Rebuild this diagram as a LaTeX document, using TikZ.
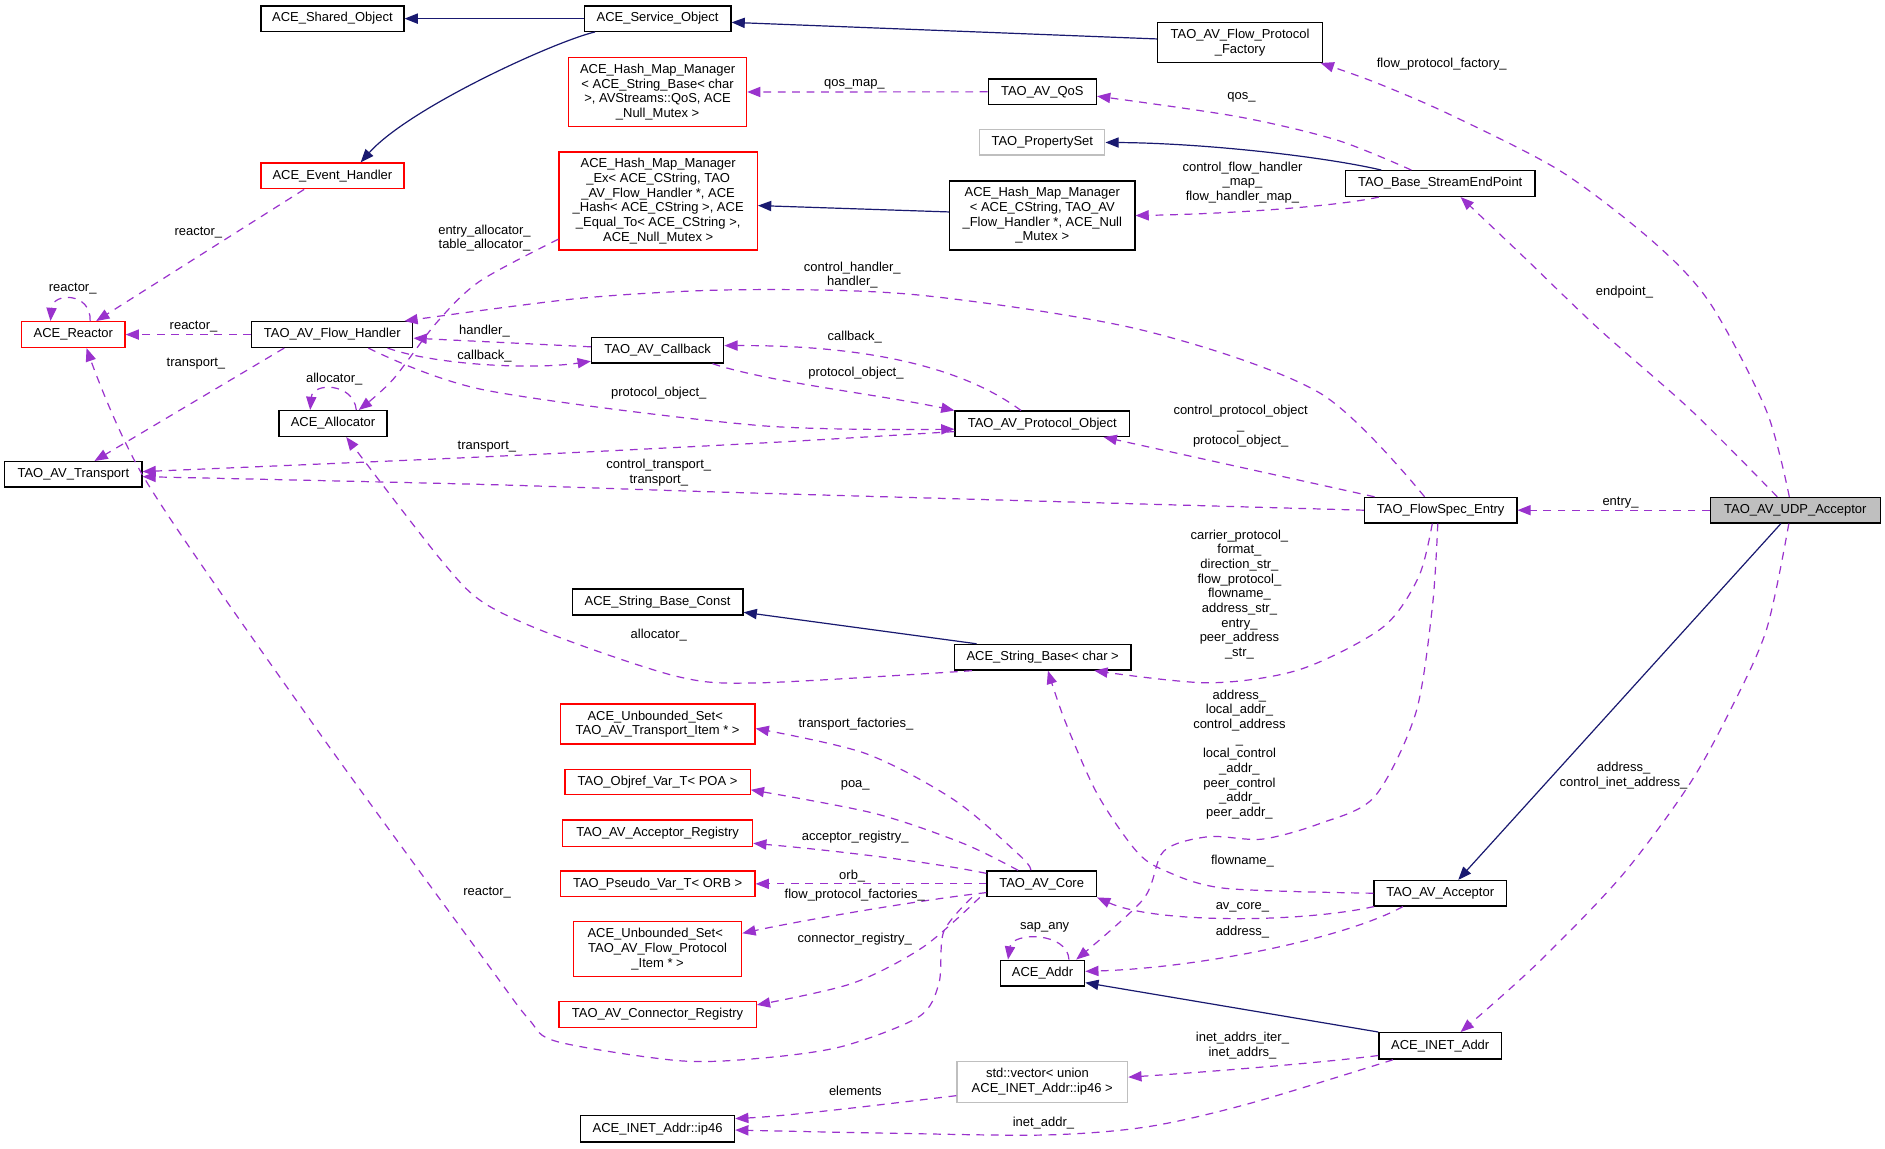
\documentclass[tikz,border=0pt]{standalone}
\usepackage{fontspec}
\setmainfont{Liberation Sans}
\usetikzlibrary{arrows.meta}
\definecolor{purp}{HTML}{9A32CD}
\definecolor{navyb}{HTML}{191970}
\definecolor{greyl}{HTML}{BFBFBF}
\newcommand\dgfont{\fontsize{10.8}{12.2}\selectfont}
\tikzset{
 box/.style={draw=black, line width=1.1pt, inner sep=0pt, align=center, font=\dgfont},
 redbox/.style={box, draw=red},
 greybox/.style={box, draw=greyl},
 usage/.style={draw=purp, dash pattern=on 6.5pt off 5.5pt, line width=1pt, -{Triangle[length=11pt,width=8.5pt]}},
 inh/.style={draw=navyb, line width=1pt, -{Triangle[length=11pt,width=8.5pt]}},
 lbl/.style={font=\dgfont, inner sep=0pt, align=center},
}
\begin{document}
\begin{tikzpicture}[x=1pt,y=-1pt]
\path[fill=white] (0,0) rectangle (1568,955);
% nodes
\node[box, minimum width=119pt, minimum height=21pt] (shared) at (276.5,15.5) {ACE\_Shared\_Object};
\node[box, minimum width=122pt, minimum height=21pt] (service) at (547,15.5) {ACE\_Service\_Object};
\node[box, minimum width=137pt, minimum height=33.3pt] (factory) at (1031.5,35.2) {TAO\_AV\_Flow\_Protocol\\\_Factory};
\node[redbox, minimum width=148pt, minimum height=57.7pt] (hashqos) at (547,76.5) {ACE\_Hash\_Map\_Manager\\< ACE\_String\_Base< char\\>, AVStreams::QoS, ACE\\\_Null\_Mutex >};
\node[box, minimum width=90pt, minimum height=21.3pt] (qos) at (867,76.4) {TAO\_AV\_QoS};
\node[greybox, minimum width=104pt, minimum height=21pt] (propset) at (867,118.5) {TAO\_PropertySet};
\node[redbox, minimum width=165pt, minimum height=81.6pt] (hashex) at (547.5,167.2) {ACE\_Hash\_Map\_Manager\\\_Ex< ACE\_CString, TAO\\\_AV\_Flow\_Handler *, ACE\\\_Hash< ACE\_CString >, ACE\\\_Equal\_To< ACE\_CString >,\\ACE\_Null\_Mutex >};
\node[box, minimum width=154pt, minimum height=57.5pt] (hashcs) at (867,179.3) {ACE\_Hash\_Map\_Manager\\< ACE\_CString, TAO\_AV\\\_Flow\_Handler *, ACE\_Null\\\_Mutex >};
\node[box, minimum width=157.5pt, minimum height=21.4pt] (endpoint) at (1198,152.7) {TAO\_Base\_StreamEndPoint};
\node[redbox, minimum width=119pt, minimum height=21.4pt] (evh) at (276.5,146.3) {ACE\_Event\_Handler};
\node[redbox, minimum width=86pt, minimum height=21.4pt] (reactor) at (61,278.3) {ACE\_Reactor};
\node[box, minimum width=134pt, minimum height=21.4pt] (flowh) at (276.4,278.3) {TAO\_AV\_Flow\_Handler};
\node[box, minimum width=110pt, minimum height=21pt] (callback) at (547,291.5) {TAO\_AV\_Callback};
\node[box, minimum width=90pt, minimum height=21.4pt] (allocator) at (277,352.3) {ACE\_Allocator};
\node[box, minimum width=114pt, minimum height=21pt] (transport) at (61,394.5) {TAO\_AV\_Transport};
\node[box, minimum width=145pt, minimum height=21pt] (protoobj) at (867,352.5) {TAO\_AV\_Protocol\_Object};
\node[box, minimum width=126.7pt, minimum height=21.2pt] (flowspec) at (1198.4,424.4) {TAO\_FlowSpec\_Entry};
\node[box, fill=greyl, minimum width=141.3pt, minimum height=21.2pt] (udp) at (1493.4,424.4) {TAO\_AV\_UDP\_Acceptor};
\node[box, minimum width=142pt, minimum height=21.6pt] (sbconst) at (547,500.8) {ACE\_String\_Base\_Const};
\node[box, minimum width=147pt, minimum height=21.3pt] (sbchar) at (867.3,546.7) {ACE\_String\_Base< char >};
\node[redbox, minimum width=162pt, minimum height=33.4pt] (usettrans) at (547,602.3) {ACE\_Unbounded\_Set<\hspace*{4pt}\\TAO\_AV\_Transport\_Item * >};
\node[redbox, minimum width=154pt, minimum height=21.2pt] (objref) at (547,650.5) {TAO\_Objref\_Var\_T< POA >};
\node[redbox, minimum width=158pt, minimum height=22pt] (accreg) at (547,693) {TAO\_AV\_Acceptor\_Registry};
\node[redbox, minimum width=162pt, minimum height=21.5pt] (pseudo) at (547,735.2) {TAO\_Pseudo\_Var\_T< ORB >};
\node[box, minimum width=91pt, minimum height=21.5pt] (avcore) at (866.5,735.2) {TAO\_AV\_Core};
\node[redbox, minimum width=140pt, minimum height=45.7pt] (usetflow) at (547,789.5) {ACE\_Unbounded\_Set<\hspace*{4pt}\\TAO\_AV\_Flow\_Protocol\\\_Item * >};
\node[redbox, minimum width=164pt, minimum height=21.4pt] (connreg) at (547,843.9) {TAO\_AV\_Connector\_Registry};
\node[box, minimum width=110pt, minimum height=21.1pt] (acceptor) at (1198,743) {TAO\_AV\_Acceptor};
\node[box, minimum width=70pt, minimum height=21.5pt] (aceaddr) at (867.2,809.5) {ACE\_Addr};
\node[box, minimum width=102pt, minimum height=22pt] (inetaddr) at (1198,870) {ACE\_INET\_Addr};
\node[greybox, minimum width=142pt, minimum height=34pt] (vector) at (867,900) {std::vector< union\hspace*{8pt}\\ACE\_INET\_Addr::ip46 >};
\node[box, minimum width=128pt, minimum height=22pt] (ip46) at (547,939) {ACE\_INET\_Addr::ip46};
% inheritance
\draw[inh] (service.west) -- (shared.east);
\draw[inh] ([yshift=2.8pt]factory.west) -- ([yshift=-3.1pt]service.east);
\draw[inh] ([xshift=-52pt]service.south) .. controls (460,35) and (340,90) .. ([xshift=23.5pt]evh.north);
\draw[inh] ([xshift=-49pt]endpoint.north) .. controls (1100,130) and (1000,119) .. (propset.east);
\draw[inh] ([yshift=3pt]hashcs.west) -- ([yshift=-3.8pt]hashex.east);
\draw[inh] ([xshift=-55pt]sbchar.north) -- ([yshift=-8.5pt]sbconst.east);
\draw[inh] ([xshift=-12pt]udp.south) -- ([xshift=15pt]acceptor.north);
\draw[inh] (inetaddr.north west) -- ([yshift=3.4pt]aceaddr.south east);
% usage
\draw[usage] ([xshift=-23.5pt]evh.south) -- ([xshift=19pt]reactor.north);
\node[lbl] (l01) at (165,193.5) {reactor\_};
\draw[usage] ([xshift=14pt]reactor.north) .. controls (76,243) and (44,243) .. ([xshift=-19pt]reactor.north);
\node[lbl] (l02) at (60.5,240.4) {reactor\_};
\draw[usage] (flowh.west) -- (reactor.east);
\node[lbl] (l03) at (161,271.7) {reactor\_};
\draw[usage] ([xshift=-40pt]flowh.south) -- ([xshift=17.6pt]transport.north);
\node[lbl] (l04) at (163,302.8) {transport\_};
\draw[usage] ([yshift=3pt]callback.west) -- ([yshift=-3pt]flowh.east);
\node[lbl] (l05) at (403,275) {handler\_};
\draw[usage] ([xshift=46pt]flowh.south) .. controls (360,303) and (440,308) .. ([yshift=-9pt]callback.west);
\node[lbl] (l06) at (403,296) {callback\_};
\draw[usage] plot[smooth] coordinates {([xshift=30pt]flowh.south) (403,324.4) (632,354) ([yshift=-4.5pt]protoobj.west)};
\node[lbl] (l07) at (548,327) {protocol\_object\_};
\draw[usage] ([xshift=45.7pt]callback.south) .. controls (640,318) and (730,328) .. (protoobj.north west);
\node[lbl] (l08) at (712,310.5) {protocol\_object\_};
\draw[usage] ([xshift=-17.7pt]protoobj.north) .. controls (800,305) and (720,287) .. ([yshift=4pt]callback.east);
\node[lbl] (l09) at (711,280) {callback\_};
\draw[usage] plot[smooth] coordinates {([yshift=-6.5pt]protoobj.west) (632,368.6) (403,380) ([yshift=2.2pt]transport.east)};
\node[lbl] (l10) at (405,371.5) {transport\_};
\draw[usage] plot[smooth] coordinates {(flowspec.west) (615.5,409.8) (403,403) ([yshift=-2pt]transport.east)};
\node[lbl] (l11) at (548,393) {control\_transport\_\\transport\_};
\draw[usage] ([xshift=-55pt]flowspec.north) -- ([xshift=51pt]protoobj.south);
\node[lbl] (l12) at (1032,354.6) {control\_protocol\_object\\\_\\protocol\_object\_};
\draw[usage] plot[smooth] coordinates {([xshift=-13.4pt]flowspec.north) (1098,327) (949.7,274.5) (764,245.4) (615.5,241) (484,248) ([xshift=60pt]flowh.north)};
\node[lbl] (l13) at (709,228.8) {control\_handler\_\\handler\_};
\draw[usage] plot[smooth] coordinates {([yshift=-31.8pt]hashex.west) (399,234) (362.8,268.8) (326.6,316) ([xshift=21.4pt]allocator.north)};
\node[lbl] (l14) at (403,198) {entry\_allocator\_\\table\_allocator\_};
\draw[usage] ([xshift=19.4pt]allocator.north) .. controls (294,318) and (260,318) .. ([xshift=-19pt]allocator.north);
\node[lbl] (l15) at (278,315) {allocator\_};
\draw[usage] plot[smooth] coordinates {([xshift=-58.8pt]sbchar.south) (632,568) (564.5,563) (463.7,529.6) (403,501.8) (367,466) ([xshift=11pt]allocator.south)};
\node[lbl] (l16) at (548,528) {allocator\_};
\draw[usage] plot[smooth] coordinates {([xshift=-7pt]flowspec.south) (1180,480) (1150,522) (1081,557) (1005,568) ([xshift=43pt]sbchar.south)};
\node[lbl] (l17) at (1031,494.5) {carrier\_protocol\_\\format\_\\direction\_str\_\\flow\_protocol\_\\flowname\_\\address\_str\_\\entry\_\\peer\_address\\\_str\_};
\draw[usage] plot[smooth] coordinates {([xshift=-2.4pt]flowspec.south) (1191.5,504.6) (1177.6,593.3) (1143.4,662.7) (1098,685) (1050,698) (1005,696) (968,708) (951,748) ([xshift=28pt]aceaddr.north)};
\node[lbl] (l18) at (1031,627.5) {address\_\\local\_addr\_\\control\_address\\\_\\local\_control\\\_addr\_\\peer\_control\\\_addr\_\\peer\_addr\_};
\draw[usage] (udp.west) -- (flowspec.east);
\node[lbl] (l19) at (1348,418.3) {entry\_};
\draw[usage] plot[smooth] coordinates {([xshift=-15pt]udp.north) (1407,341.6) (1329.6,273.3) (1267.6,213.8) ([xshift=17pt]endpoint.south)};
\node[lbl] (l20) at (1351.3,242.7) {endpoint\_};
\draw[usage] plot[smooth] coordinates {([xshift=-5pt]udp.north) (1469.3,341.6) (1422.7,252.5) (1376.2,202) (1298.5,142.6) (1205.5,95) (1143.4,68.3) ([xshift=-2pt]factory.south east)};
\node[lbl] (l21) at (1199.3,53.5) {flow\_protocol\_factory\_};
\draw[usage] plot[smooth] coordinates {([xshift=-24pt]endpoint.north) (1112,116.5) (1029.4,97) ([yshift=-3.6pt]qos.east)};
\node[lbl] (l22) at (1032.7,81) {qos\_};
\draw[usage] (qos.west) -- (hashqos.east);
\node[lbl] (l23) at (710.7,69.9) {qos\_map\_};
\draw[usage] ([xshift=-51pt]endpoint.south) .. controls (1110,172) and (1020,178) .. (hashcs.east);
\node[lbl] (l24) at (1033.5,151.7) {control\_flow\_handler\\\_map\_\\flow\_handler\_map\_};
\draw[usage] ([xshift=-55pt]acceptor.south) .. controls (1080,768) and (960,768) .. (avcore.south east);
\node[lbl] (l25) at (1033.5,754.7) {av\_core\_};
\draw[usage] plot[smooth] coordinates {(acceptor.west) (1018.7,738.9) (967.8,723.7) (944.4,707) (912.5,660) (886,600) ([xshift=4.4pt]sbchar.south)};
\node[lbl] (l26) at (1033.5,716) {flowname\_};
\draw[usage] ([xshift=-31pt]acceptor.south) .. controls (1120,780) and (1000,805) .. ([yshift=1.5pt]aceaddr.east);
\node[lbl] (l27) at (1033.5,775) {address\_};
\draw[usage] ([xshift=22pt]aceaddr.north) .. controls (888,775) and (842,775) .. ([xshift=-28.7pt]aceaddr.north);
\node[lbl] (l28) at (869,771) {sap\_any};
\draw[usage] plot[smooth] coordinates {([xshift=-5.4pt]udp.south) (1469.3,524) (1438,593.3) (1404,654.4) (1348.4,729.2) (1277.5,802.7) ([xshift=17pt]inetaddr.north)};
\node[lbl] (l29) at (1350.5,645.3) {address\_\\control\_inet\_address\_};
\draw[usage] ([yshift=-8pt]inetaddr.west) .. controls (1100,884) and (1000,892) .. ([yshift=4pt]vector.east);
\node[lbl] (l30) at (1033.5,870) {inet\_addrs\_iter\_\\inet\_addrs\_};
\draw[usage] plot[smooth] coordinates {([xshift=-39.3pt]inetaddr.south) (1039.8,917.8) (955,937.2) (870,944.1) (742.8,942.7) ([yshift=-1pt]ip46.east)};
\node[lbl] (l31) at (868,933.9) {inet\_addr\_};
\draw[usage] ([yshift=-11.4pt]vector.west) .. controls (740,918) and (660,928) .. ([yshift=8.5pt]ip46.east);
\node[lbl] (l32) at (711.5,907.2) {elements};
\draw[usage] plot[smooth] coordinates {([xshift=-9pt]avcore.north) (849.3,712.6) (793.8,665.5) (719.5,626.6) ([yshift=-3.7pt]usettrans.east)};
\node[lbl] (l33) at (712,602.2) {transport\_factories\_};
\draw[usage] plot[smooth] coordinates {([xshift=-19.7pt]avcore.north) (801,701.5) (727,676.5) ([yshift=-6.5pt]objref.east)};
\node[lbl] (l34) at (711.4,653) {poa\_};
\draw[usage] ([yshift=8.7pt]avcore.west) .. controls (780,718) and (700,708) .. ([yshift=-8.5pt]accreg.east);
\node[lbl] (l35) at (711.4,696) {acceptor\_registry\_};
\draw[usage] (avcore.west) -- (pseudo.east);
\node[lbl] (l36) at (708.9,728.4) {orb\_};
\draw[usage] ([yshift=-7.3pt]avcore.west) .. controls (770,748) and (670,765) .. ([yshift=13.2pt]usetflow.east);
\node[lbl] (l37) at (711,745) {flow\_protocol\_factories\_};
\draw[usage] plot[smooth] coordinates {([xshift=-51.5pt]avcore.south) (768.3,787.5) (708.9,818) ([yshift=8pt]connreg.east)};
\node[lbl] (l38) at (711,781) {connector\_registry\_};
\draw[usage] plot[smooth] coordinates {([xshift=-58pt]avcore.south) (785,775) (781,818) (764,846) (700,870.6) (632,880.3) (564.5,882.3) (463.7,866.5) (440,848) (403,798.5) (262,604.5) (121,399.3) ([xshift=11pt]reactor.south)};
\node[lbl] (l39) at (405.2,742.5) {reactor\_};
\end{tikzpicture}
\end{document}
